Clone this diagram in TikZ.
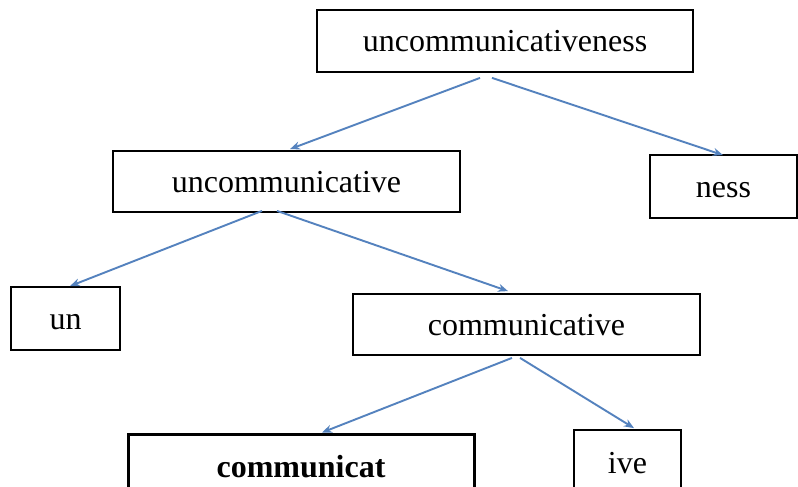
\documentclass[tikz,border=0pt]{standalone}
\usepackage{fontspec}
\setmainfont{Liberation Serif}
\usetikzlibrary{arrows.meta}
\definecolor{arrowblue}{RGB}{84,130,190}
\tikzset{
  wordbox/.style={draw=black, line width=1.8pt, fill=white, inner sep=0pt,
    text height=22pt, text depth=0pt,
    font=\fontsize{32pt}{36pt}\selectfont},
  conn/.style={draw=arrowblue, line width=1.9pt, -{Stealth[length=10pt,width=8pt]}}
}
\begin{document}
\begin{tikzpicture}[x=1pt,y=-1pt]
\useasboundingbox (0,0) rectangle (798,487);
\clip (0,0) rectangle (798,487);
\fill[white] (0,0) rectangle (798,487);
\node[wordbox, minimum width=376pt, minimum height=62pt] (top) at (505,41) {uncommunicativeness};
\node[wordbox, minimum width=347pt, minimum height=61pt] (uc) at (286.5,181.5) {uncommunicative};
\node[wordbox, minimum width=147pt, minimum height=63pt] (ness) at (723.5,186.5) {ness};
\node[wordbox, minimum width=109pt, minimum height=63pt] (un) at (65.5,318.5) {un};
\node[wordbox, minimum width=347pt, minimum height=61pt] (comm) at (526.5,324.5) {communicative};
\node[wordbox, line width=3pt, minimum width=346pt, minimum height=64pt, font=\fontsize{32pt}{36pt}\selectfont\bfseries] (cat) at (301,466) {communicat};
\node[wordbox, minimum width=107pt, minimum height=64pt] (ive) at (627.5,462) {ive};
\draw[conn] ([shift={(-25,5)}]top.south) -- ([shift={(3.5,-1)}]uc.north);
\draw[conn] ([shift={(-13,5)}]top.south) -- ([shift={(-0.5,1)}]ness.north);
\draw[conn] ([shift={(-24.5,-2)}]uc.south) -- ([shift={(4.5,0)}]un.north);
\draw[conn] ([shift={(-9.5,-2)}]uc.south) -- ([shift={(-18.5,-2)}]comm.north);
\draw[conn] ([shift={(-14.5,2)}]comm.south) -- ([shift={(21,0)}]cat.north);
\draw[conn] ([shift={(-6.5,2)}]comm.south) -- ([shift={(6.5,-1)}]ive.north);
\end{tikzpicture}
\end{document}
